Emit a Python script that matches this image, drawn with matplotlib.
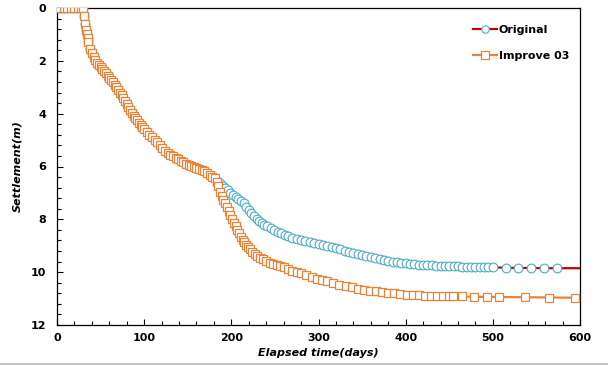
import numpy as np
import matplotlib.pyplot as plt
from matplotlib.lines import Line2D
from matplotlib.ticker import MultipleLocator

# common part of both runs (days, settlement m)
shared_days = [4, 8, 12, 16, 20, 24, 28, 30, 31, 32, 33, 34, 35, 36, 38, 40, 42, 44,
               46, 48, 50, 52, 54, 56, 58, 60, 62, 64, 66, 68, 70, 72, 74, 76, 78,
               80, 82, 84, 86, 88, 90, 92, 94, 96, 98, 100, 103, 106, 109, 112,
               115, 118, 121, 124, 127, 130, 133, 136, 139, 142, 145, 148, 151,
               154, 157, 160, 163, 166, 169, 172, 175, 178, 181]
shared_settle = [0.0, 0.0, 0.0, 0.0, 0.0, 0.0, 0.0, 0.0, 0.3, 0.6, 0.85, 1.0, 1.15,
                 1.3, 1.55, 1.72, 1.85, 1.97, 2.07, 2.15, 2.22, 2.3, 2.38, 2.47,
                 2.56, 2.65, 2.74, 2.82, 2.9, 3.0, 3.1, 3.2, 3.3, 3.42, 3.53, 3.64,
                 3.75, 3.86, 3.97, 4.07, 4.16, 4.25, 4.34, 4.42, 4.5, 4.58, 4.68,
                 4.79, 4.89, 4.99, 5.09, 5.2, 5.3, 5.4, 5.48, 5.55, 5.62, 5.68, 5.73,
                 5.78, 5.84, 5.89, 5.94, 5.98, 6.03, 6.07, 6.11, 6.13, 6.17, 6.24,
                 6.31, 6.38, 6.44]

# Original after divergence
orig_days = [184, 187, 190, 193, 196, 199, 202, 205, 208, 211, 214, 217, 220, 223,
             226, 229, 232, 235, 238, 241, 245, 249, 253, 257, 261, 265, 270, 275,
             280, 285, 290, 295, 300, 305, 310, 315, 320, 325, 330, 335, 340, 345,
             350, 355, 360, 365, 370, 375, 380, 385, 390, 395, 400, 405, 410, 415,
             420, 425, 430, 435, 440, 445, 450, 455, 460, 465, 470, 475, 480, 485,
             490, 495, 500, 515, 529, 544, 559, 574, 600]
orig_settle = [6.55, 6.64, 6.72, 6.8, 6.9, 7.0, 7.08, 7.15, 7.22, 7.3, 7.4, 7.52,
               7.64, 7.76, 7.87, 7.97, 8.05, 8.13, 8.2, 8.27, 8.34, 8.41, 8.47,
               8.53, 8.58, 8.63, 8.69, 8.74, 8.78, 8.82, 8.86, 8.9, 8.94, 8.98,
               9.02, 9.06, 9.1, 9.14, 9.19, 9.23, 9.27, 9.31, 9.35, 9.39, 9.43,
               9.47, 9.51, 9.54, 9.57, 9.6, 9.62, 9.64, 9.66, 9.68, 9.7, 9.71,
               9.72, 9.73, 9.74, 9.75, 9.76, 9.77, 9.77, 9.78, 9.78, 9.79, 9.79,
               9.8, 9.8, 9.8, 9.81, 9.81, 9.82, 9.83, 9.84, 9.84, 9.85, 9.85, 9.85]

# Improve 03 after divergence
imp_days = [183, 185, 187, 189, 191, 193, 195, 197, 199, 201, 203, 205, 207, 209,
            211, 213, 215, 217, 219, 221, 224, 227, 230, 233, 236, 240, 244, 248,
            252, 256, 260, 265, 270, 275, 280, 286, 292, 298, 304, 310, 317, 324,
            331, 338, 345, 352, 359, 366, 373, 380, 387, 394, 401, 408, 415, 422,
            429, 436, 443, 450, 454, 465, 478, 493, 507, 537, 565, 594, 600]
imp_settle = [6.58, 6.75, 6.95, 7.1, 7.25, 7.4, 7.55, 7.7, 7.85, 7.99, 8.13, 8.27,
              8.4, 8.53, 8.66, 8.77, 8.87, 8.96, 9.04, 9.12, 9.22, 9.31, 9.39, 9.46,
              9.52, 9.58, 9.64, 9.69, 9.74, 9.78, 9.82, 9.88, 9.94, 9.99, 10.05,
              10.11, 10.18, 10.25, 10.3, 10.35, 10.41, 10.47, 10.53, 10.58, 10.62,
              10.66, 10.7, 10.72, 10.75, 10.78, 10.8, 10.83, 10.85, 10.87, 10.88,
              10.89, 10.9, 10.9, 10.91, 10.91, 10.92, 10.92, 10.93, 10.94, 10.94,
              10.95, 10.96, 10.97, 10.97]

x_orig = np.concatenate([shared_days, orig_days])
y_orig = np.concatenate([shared_settle, orig_settle])
x_imp = np.concatenate([shared_days, imp_days])
y_imp = np.concatenate([shared_settle, imp_settle])

plt.rcParams["font.family"] = "DejaVu Sans"
plt.rcParams["font.weight"] = "bold"

fig = plt.figure(figsize=(6.08, 3.66), dpi=100)
ax = fig.add_axes([57 / 608, 1 - 325 / 366, 523 / 608, 317 / 366])

blue = "#4BACC6"
orange = "#E8843A"

ax.plot(x_orig, y_orig, color="#C00000", lw=1.6, marker="o", ms=6.3,
        mfc="white", mec=blue, mew=0.8, markevery=list(range(len(x_orig) - 1)),
        label="Original", zorder=3)
ax.plot(x_imp, y_imp, color=orange, lw=1.6, marker="s", ms=6.0,
        mfc="white", mec=orange, mew=0.9, markevery=list(range(len(x_imp) - 1)),
        label="Improve 03", zorder=4)

ax.set_xlim(0, 600)
ax.set_ylim(12, 0)
ax.xaxis.set_major_locator(MultipleLocator(100))
ax.xaxis.set_minor_locator(MultipleLocator(20))
ax.yaxis.set_major_locator(MultipleLocator(2))
ax.yaxis.set_minor_locator(MultipleLocator(0.4))
ax.tick_params(which="both", direction="in", top=False, right=False,
               labelsize=8, width=0.8)
ax.tick_params(which="major", length=4)
ax.tick_params(which="minor", length=3)
ax.tick_params(axis="x", pad=6)
ax.tick_params(axis="y", pad=8)
for lab in ax.get_xticklabels() + ax.get_yticklabels():
    lab.set_fontweight("bold")
for sp in ax.spines.values():
    sp.set_linewidth(0.9)
    sp.set_color("black")

ax.set_xlabel("Elapsed time(days)", fontsize=8, fontweight="bold",
              fontstyle="italic", labelpad=3)
ax.set_ylabel("Settlement(m)", fontsize=8, fontweight="bold",
              fontstyle="italic", labelpad=6)

ax.legend(loc="upper left", bbox_to_anchor=(0.784, 0.965), frameon=False,
          prop={"weight": "bold", "size": 8}, borderpad=0, markerscale=0.85,
          handlelength=2.2, handletextpad=0.15, labelspacing=1.45)

fig.add_artist(Line2D([0, 1], [1 - 364 / 366] * 2, color="#BBBBBB", lw=1.2))

fig.savefig("out.png", dpi=100)
